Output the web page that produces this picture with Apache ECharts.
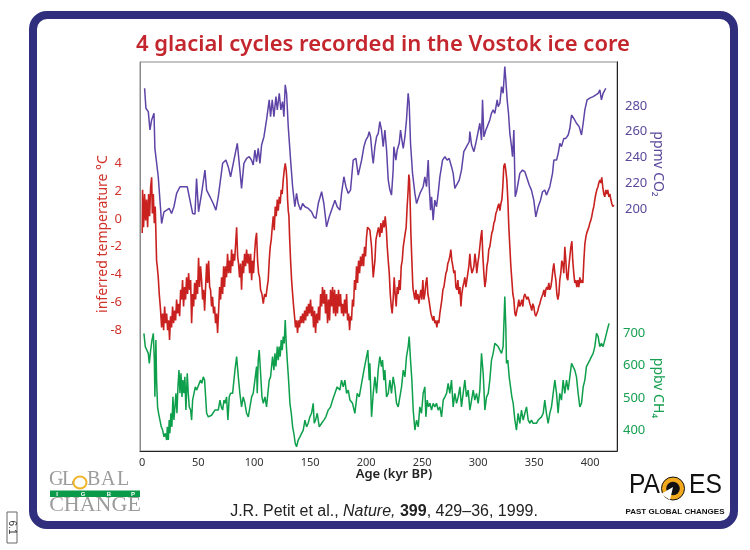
<!DOCTYPE html>
<html><head><meta charset="utf-8">
<script src="https://cdn.jsdelivr.net/npm/echarts@6/dist/echarts.min.js"></script>
<style>html,body{margin:0;padding:0;background:#fff}#c{width:750px;height:550px}</style>
</head><body><div id="c"></div>
<script>
const ageTicks = [0, 50, 100, 150, 200, 250, 300, 350, 400];
const tempTicks = [-8, -6, -4, -2, 0, 2, 4];
const co2Ticks = [200, 220, 240, 260, 280];
const ch4Ticks = [400, 500, 600, 700];

// Temperature (deg C) vs age (kyr BP)
const tempData = [
[0.0,-1.0],[0.3,2.1],[1.2,-0.6],[2.1,1.8],[3.0,-0.1],[3.9,1.4],[4.8,-0.6],[5.7,1.8],[6.6,0.2],[7.5,2.3],[8.4,3.0],[9.0,0.4],[9.9,1.8],[10.8,-0.3],[11.6,0.9],[12.2,-1.0],[12.8,-3.0],[13.4,-3.4],[14.3,-4.2],[15.2,-5.4],[16.4,-6.6],[17.3,-7.8],[18.2,-6.8],[19.1,-8.0],[20.0,-6.3],[20.9,-7.5],[21.8,-6.8],[22.7,-8.0],[23.6,-7.3],[24.4,-8.7],[25.3,-7.0],[26.2,-7.8],[27.1,-6.3],[28.0,-7.5],[28.9,-6.6],[29.8,-7.3],[30.7,-5.8],[31.6,-6.8],[32.5,-6.1],[33.4,-7.0],[34.3,-5.1],[35.2,-5.8],[36.0,-4.4],[36.9,-6.3],[37.8,-4.9],[38.7,-5.8],[39.6,-4.2],[40.5,-5.4],[41.4,-3.9],[42.3,-5.1],[43.2,-4.4],[44.1,-7.5],[45.0,-5.4],[45.9,-6.3],[46.8,-4.6],[47.7,-5.8],[48.5,-4.4],[49.4,-5.4],[50.3,-2.8],[51.2,-4.9],[52.1,-3.4],[53.0,-4.4],[53.9,-5.8],[54.8,-5.1],[55.7,-6.6],[56.6,-4.9],[57.5,-3.2],[58.4,-4.6],[59.3,-3.0],[60.2,-4.9],[61.0,-5.1],[61.9,-6.3],[62.8,-5.6],[63.7,-6.8],[64.6,-6.3],[65.5,-7.5],[66.4,-6.8],[67.3,-8.2],[68.2,-6.6],[69.1,-4.9],[70.0,-5.8],[70.9,-4.2],[71.8,-5.4],[72.7,-3.4],[73.5,-4.9],[74.4,-3.4],[75.3,-4.2],[76.2,-2.5],[77.1,-3.9],[78.0,-3.0],[78.9,-3.9],[79.8,-2.2],[80.7,-3.4],[81.6,-2.5],[82.5,-3.0],[83.4,-1.8],[84.3,-0.6],[85.2,-2.7],[86.0,-3.2],[86.9,-4.2],[87.8,-3.2],[88.7,-5.1],[89.6,-3.0],[90.5,-3.9],[91.4,-2.5],[92.3,-3.4],[93.2,-2.2],[94.1,-3.2],[95.0,-2.5],[95.9,-3.9],[96.8,-2.5],[97.7,-4.4],[98.5,-3.0],[99.4,-3.9],[100.3,-2.5],[101.2,-1.5],[102.1,-1.0],[103.0,-3.0],[103.9,-3.9],[104.8,-4.2],[105.7,-5.1],[106.9,-5.4],[108.1,-6.1],[109.3,-5.4],[110.5,-5.6],[111.6,-4.9],[112.5,-4.4],[113.4,-3.0],[114.3,-2.0],[115.2,-1.5],[116.1,-0.6],[117.0,0.2],[117.9,-0.8],[118.8,0.9],[119.7,0.2],[120.6,1.4],[121.5,0.6],[122.4,1.6],[123.2,1.1],[124.1,2.1],[125.0,1.8],[125.9,2.8],[126.8,3.5],[127.7,4.0],[128.6,3.5],[129.2,2.8],[129.8,1.4],[130.4,0.6],[131.0,0.2],[131.6,-1.3],[132.5,-3.0],[133.4,-4.4],[134.3,-5.4],[135.2,-6.3],[136.0,-7.0],[136.9,-7.8],[137.8,-7.3],[138.7,-8.2],[139.6,-7.3],[140.5,-7.8],[141.4,-7.0],[142.3,-7.5],[143.2,-6.8],[144.1,-7.5],[145.0,-6.6],[145.9,-7.3],[146.8,-6.3],[147.7,-7.0],[148.5,-6.1],[149.4,-6.8],[150.3,-5.8],[151.2,-7.0],[152.1,-6.3],[153.0,-7.8],[153.9,-6.6],[154.8,-8.2],[155.7,-6.8],[156.6,-7.5],[157.5,-6.3],[158.4,-7.3],[159.3,-5.4],[160.2,-6.3],[161.0,-4.9],[161.9,-6.1],[162.8,-5.1],[163.7,-6.8],[164.6,-5.4],[165.5,-7.5],[166.4,-5.8],[167.3,-7.3],[168.2,-5.1],[169.1,-6.3],[170.0,-4.9],[170.9,-6.8],[171.8,-5.1],[172.7,-7.0],[173.5,-5.4],[174.4,-6.8],[175.3,-5.1],[176.2,-6.3],[177.1,-5.4],[178.0,-6.8],[178.9,-6.1],[179.8,-7.0],[180.7,-5.8],[181.6,-6.8],[182.5,-5.4],[183.4,-7.3],[184.3,-6.8],[185.2,-8.0],[186.0,-7.0],[186.9,-7.3],[187.8,-5.8],[188.7,-6.3],[189.6,-4.4],[190.5,-5.1],[191.4,-3.4],[192.3,-4.6],[193.2,-3.0],[194.1,-3.9],[195.0,-2.7],[195.9,-3.4],[196.8,-2.5],[197.7,-3.4],[198.5,-2.0],[199.4,-2.7],[200.3,-1.3],[201.2,-0.6],[202.1,-0.6],
[203.3,-0.8],[204.8,-2.0],[206.3,-4.2],[207.8,-3.0],[208.7,-1.5],[209.9,-1.0],[211.0,-0.6],[212.2,-1.3],[213.1,-0.3],[214.0,-1.0],[215.2,-0.1],[216.1,-0.6],[217.0,0.2],[217.9,-0.6],[218.8,-2.0],[219.7,-3.0],[220.6,-3.9],[221.5,-5.4],[222.4,-6.3],[223.2,-6.8],[224.1,-5.8],[225.0,-4.2],[225.9,-5.4],[226.8,-6.3],[227.7,-4.9],[228.6,-5.4],[229.5,-4.4],[230.4,-5.1],[231.3,-3.4],[232.2,-3.0],[233.1,-2.0],[234.0,-1.5],[234.9,-1.0],[235.7,-0.6],[236.6,0.9],[237.5,2.1],[238.1,3.2],[238.7,2.8],[239.3,1.1],[239.9,-1.0],[240.8,-3.0],[241.7,-4.9],[242.6,-5.4],[243.5,-5.8],[244.4,-5.1],[245.3,-5.8],[246.2,-5.4],[247.1,-6.1],[247.9,-5.6],[248.8,-5.1],[249.7,-5.8],[250.6,-4.4],[251.5,-5.8],[252.4,-5.4],[253.3,-4.6],[254.2,-4.2],[255.1,-5.4],[256.0,-5.8],[256.9,-6.3],[257.8,-6.8],[258.7,-6.8],[259.6,-7.3],[260.4,-7.0],[261.3,-7.5],[262.2,-7.3],[263.1,-7.8],[264.0,-7.3],[264.9,-7.5],[265.8,-6.8],[266.7,-6.3],[267.6,-5.8],[268.5,-5.1],[269.4,-4.9],[270.3,-4.4],[271.2,-3.9],[272.1,-3.7],[272.9,-3.2],[273.8,-3.0],[274.7,-2.7],[275.6,-2.2],[276.5,-3.0],[277.4,-3.4],[278.3,-3.9],[279.2,-3.7],[280.1,-4.9],[281.0,-5.1],[281.9,-4.4],[282.8,-5.4],[283.7,-4.9],[284.6,-6.3],[285.4,-5.4],[286.3,-4.9],[287.2,-4.6],[288.1,-4.2],[289.0,-4.9],[289.9,-4.4],[290.8,-3.9],[291.7,-3.4],[292.6,-2.5],[293.5,-3.4],[294.4,-3.9],[295.3,-3.7],[296.2,-3.4],[297.1,-2.5],[297.9,-3.0],[298.8,-3.9],[299.7,-3.2],[300.6,-2.7],[301.5,-2.0],[302.4,-1.3],[303.3,-0.8],[304.2,-2.7],[305.1,-3.9],[306.0,-4.9],[306.9,-4.4],[307.8,-3.4],[308.7,-3.0],[309.5,-2.2],[310.4,-2.0],[311.3,-1.5],[312.2,-1.0],[313.1,-0.8],[314.0,-0.3],[314.9,-0.1],[315.8,0.4],[316.7,0.6],[317.6,0.9],[318.5,1.1],[319.4,0.6],[320.3,1.1],[321.2,1.4],[322.0,2.3],[322.9,3.8],[323.8,4.0],[324.7,3.5],[325.6,2.8],[326.5,1.4],[327.4,-0.6],[328.3,-2.0],[329.2,-3.4],[330.1,-4.4],[331.0,-5.4],[331.9,-5.8],[332.8,-6.8],[333.7,-7.0],[334.5,-6.6],[335.4,-6.3],[336.3,-5.8],[337.2,-6.3],[338.1,-6.1],[339.0,-5.8],[339.9,-6.3],[340.8,-5.6],[341.7,-5.4],[342.6,-5.6],[343.5,-5.8],[344.4,-5.6],[345.3,-5.8],[346.2,-6.1],[347.0,-6.3],[347.9,-6.6],[348.8,-6.1],[349.7,-6.3],[350.6,-6.8],[351.5,-7.0],[352.4,-6.8],[353.3,-6.6],[354.2,-6.3],[355.1,-6.1],[356.0,-5.8],[356.9,-5.6],[357.8,-5.4],[358.7,-5.1],[359.6,-5.6],[360.4,-5.1],[361.3,-4.9],[362.2,-5.1],[363.1,-4.6],[364.0,-5.1],[364.9,-4.9],[365.8,-4.4],[366.7,-3.7],[367.6,-3.2],[368.5,-3.9],[369.4,-4.4],[370.3,-5.4],[371.2,-5.8],[372.1,-5.4],[372.9,-4.4],[373.8,-3.9],[374.7,-3.0],[375.6,-3.2],[376.5,-3.9],[377.4,-2.0],[378.3,-3.0],[379.2,-4.2],[380.1,-4.4],[381.0,-3.4],[381.9,-2.7],[382.8,-2.0],[383.7,-1.6],[384.5,-3.0],[385.4,-3.9],[386.3,-4.6],[387.2,-4.4],[388.1,-4.9],[389.0,-4.4],[389.9,-4.9],[390.8,-4.2],[391.7,-4.6],[392.6,-4.4],[393.5,-4.6],[394.4,-3.0],[395.3,-1.8],[396.2,-1.3],[397.0,-1.0],[397.9,-0.8],[398.8,-0.6],[399.7,-0.3],[400.6,-0.1],[401.5,0.2],[402.4,0.6],[403.3,0.9],[404.2,1.4],[405.1,1.8],[406.0,2.1],[406.9,2.3],[407.8,2.6],[408.7,2.8],[409.6,2.6],[410.4,3.0],[411.3,2.3],[412.2,1.8],[413.1,1.6],[414.0,2.1],[414.9,1.8],[415.8,2.1],[416.7,1.6],[417.6,1.8],[418.5,1.4],[419.4,1.1],[420.3,0.9],[421.2,1.0]
];

// CO2 (ppmv) vs age (kyr BP)
const co2Data = [
[2.1,293.7],[3.3,278.2],[5.4,275.6],[6.9,261.4],[8.4,269.2],[10.5,274.3],[11.3,247.2],[12.8,245.9],[14.3,225.2],[15.8,207.1],[17.3,189.0],[19.4,198.1],[21.8,199.4],[24.1,200.7],[26.2,196.8],[28.3,202.0],[30.7,212.3],[33.7,217.5],[38.1,217.5],[40.2,217.5],[42.6,207.1],[45.0,196.8],[47.1,196.3],[48.5,223.9],[50.3,198.1],[53.0,212.3],[56.0,230.4],[57.5,214.9],[60.5,209.7],[63.4,204.5],[65.8,199.4],[67.9,209.7],[71.8,235.6],[74.7,238.1],[76.8,233.0],[78.9,225.2],[81.3,235.6],[84.9,251.1],[87.2,230.4],[88.7,216.2],[90.8,235.6],[93.2,239.4],[95.6,240.7],[97.6,238.1],[99.1,234.3],[100.6,245.9],[102.1,236.8],[103.6,247.2],[105.1,235.6],[106.6,249.8],[108.7,256.2],[111.0,269.2],[113.4,284.7],[114.6,271.7],[116.1,284.7],[117.6,271.7],[119.4,287.2],[120.6,276.9],[122.4,289.8],[123.8,276.9],[125.3,283.4],[126.5,271.7],[127.7,296.3],[128.9,289.8],[130.4,264.0],[132.5,238.1],[134.3,217.5],[136.3,202.0],[137.8,212.3],[139.3,204.5],[141.4,199.4],[143.2,204.5],[145.3,202.0],[148.3,200.7],[151.2,198.1],[153.3,194.2],[155.1,192.9],[157.2,204.5],[160.2,213.6],[162.2,204.5],[164.6,186.4],[167.0,194.2],[169.1,199.4],[172.1,207.1],[174.1,202.0],[176.5,199.4],[178.0,212.3],[180.1,225.2],[181.9,217.5],[184.0,212.3],[186.0,214.9],[188.4,238.1],[190.8,239.4],[192.9,226.5],[194.4,227.8],[195.9,238.1],[198.0,248.5],[199.7,253.6],[201.5,256.2],[202.7,260.1],[203.9,256.2],[205.4,242.0],[206.3,235.6],[207.8,248.5],[209.3,256.2],[210.8,258.8],[212.2,267.9],[213.7,261.4],[215.2,248.5],[216.7,261.4],[218.2,245.9],[219.7,222.6],[221.2,214.9],[222.6,211.0],[224.1,230.4],[224.7,248.5],[226.5,238.1],[227.7,245.9],[229.5,251.1],[230.7,261.4],[231.9,253.6],[233.1,247.2],[234.6,256.2],[236.0,269.2],[237.5,289.8],[238.4,282.1],[239.6,251.1],[241.4,227.8],[243.5,212.3],[245.0,204.5],[246.5,208.4],[248.0,212.3],[249.4,211.0],[250.9,217.5],[252.4,225.2],[253.9,217.5],[255.4,238.1],[256.3,217.5],[257.5,199.4],[258.4,209.7],[259.8,191.6],[261.3,207.1],[262.8,202.0],[264.3,212.3],[265.8,225.2],[268.2,238.1],[270.3,240.7],[272.3,238.1],[274.1,239.4],[276.2,233.0],[277.7,227.8],[279.2,216.2],[280.7,218.8],[283.1,222.6],[285.1,230.4],[287.2,244.6],[289.6,248.5],[292.0,252.3],[292.6,260.1],[294.1,249.8],[296.2,244.6],[297.9,251.1],[300.0,260.1],[301.5,266.6],[303.0,253.6],[303.9,284.7],[305.1,256.2],[306.9,261.4],[308.1,264.0],[309.3,264.0],[310.4,269.2],[311.9,274.3],[313.4,276.9],[314.9,274.3],[317.0,284.7],[317.9,279.5],[319.4,282.1],[320.9,295.0],[322.3,289.8],[323.8,310.5],[324.7,300.2],[325.9,284.7],[327.1,274.3],[328.3,258.8],[329.8,248.5],[330.7,240.7],[331.9,261.4],[333.1,209.7],[334.3,213.6],[335.7,212.3],[337.2,227.8],[339.6,230.4],[341.7,229.1],[343.2,225.2],[345.6,218.8],[347.6,214.9],[349.7,207.1],[351.5,194.2],[353.6,202.0],[355.7,207.1],[357.5,213.6],[359.5,214.9],[361.0,211.0],[362.5,212.3],[364.0,217.5],[366.4,227.8],[367.6,238.1],[370.0,238.1],[371.5,243.3],[373.0,251.1],[374.4,248.5],[376.5,254.9],[378.3,254.9],[380.4,257.5],[381.9,262.7],[383.4,273.0],[385.4,270.4],[387.8,266.6],[390.2,264.0],[392.3,257.5],[393.8,266.6],[395.3,276.9],[397.3,284.7],[399.7,286.0],[402.7,287.2],[405.1,288.5],[407.2,289.8],[408.7,292.4],[410.1,284.7],[411.6,289.8],[414.0,293.7]
];

// CH4 (ppbv) vs age (kyr BP)
const ch4Data = [
[1.5,700],[2.7,659],[3.9,659],[5.4,638],[6.3,607],[7.5,648],[8.7,679],[9.9,700],[10.8,617],[11.3,503],[12.2,679],[12.8,555],[13.7,472],[14.6,452],[15.8,431],[17.0,410],[18.2,400],[19.4,379],[20.6,390],[21.8,369],[22.4,410],[23.3,369],[24.1,431],[24.7,390],[25.6,452],[26.5,410],[27.4,503],[28.3,431],[29.2,472],[30.1,514],[31.0,452],[31.9,534],[32.8,586],[33.7,514],[34.6,576],[35.5,503],[36.3,555],[37.2,514],[38.1,565],[39.0,462],[40.2,576],[41.1,514],[42.0,472],[43.2,462],[44.1,431],[45.0,493],[46.2,514],[47.4,534],[48.5,524],[49.7,534],[50.9,534],[52.1,555],[53.3,545],[54.5,565],[55.7,555],[57.5,452],[59.0,441],[60.5,441],[61.9,446],[63.4,452],[64.9,462],[66.4,457],[67.9,462],[69.4,493],[70.6,472],[71.8,462],[73.0,493],[74.1,483],[75.3,503],[76.5,431],[77.7,503],[78.9,514],[80.7,514],[82.8,586],[84.3,628],[85.8,565],[87.2,514],[88.7,472],[90.2,503],[91.7,483],[93.2,452],[94.7,441],[96.2,441],[97.7,503],[99.1,514],[100.6,555],[102.1,597],[102.7,514],[103.6,617],[104.5,648],[105.7,576],[106.9,503],[108.1,483],[109.6,503],[111.0,472],[112.2,514],[113.4,555],[114.6,565],[115.5,597],[116.4,628],[117.6,586],[118.5,638],[119.4,597],[120.6,659],[121.5,617],[122.4,659],[123.2,628],[124.1,679],[125.0,648],[125.9,690],[126.8,669],[127.7,741],[128.6,669],[129.5,617],[130.7,555],[131.9,483],[133.1,452],[134.3,410],[135.4,390],[136.6,359],[137.8,348],[139.3,369],[140.8,379],[142.3,379],[143.8,400],[145.3,431],[146.8,410],[148.2,421],[149.7,441],[151.2,452],[152.7,483],[153.6,421],[154.8,431],[156.3,452],[158.1,410],[160.2,421],[162.2,431],[164.0,441],[166.1,462],[168.2,472],[170.0,493],[172.1,514],[174.1,534],[176.5,524],[178.0,555],[179.5,534],[181.0,555],[182.5,514],[184.0,524],[185.5,493],[187.8,483],[189.9,452],[192.0,514],[193.8,503],[195.9,545],[198.0,586],[199.7,617],[201.5,648],[202.7,555],
[203.3,607],[204.8,441],[206.3,514],[207.8,565],[209.3,514],[210.7,586],[212.2,628],[213.7,597],[214.6,617],[215.8,555],[216.7,586],[218.2,503],[219.7,514],[221.2,555],[222.6,514],[224.1,565],[225.6,534],[227.1,483],[228.6,472],[230.1,472],[231.6,534],[233.1,586],[234.6,565],[236.0,628],[237.5,659],[238.4,690],[239.6,617],[240.8,555],[242.0,462],[243.5,400],[245.0,431],[246.5,410],[247.9,472],[249.4,452],[250.9,514],[252.4,534],[253.3,441],[254.5,493],[255.7,472],[256.9,483],[258.4,462],[259.8,483],[261.3,472],[262.8,483],[264.3,462],[265.8,472],[267.3,441],[268.8,493],[270.3,503],[271.8,514],[273.2,545],[274.7,514],[276.2,555],[277.7,472],[279.2,514],[280.7,483],[282.2,503],[283.7,534],[285.1,472],[286.6,514],[288.1,555],[289.6,503],[291.1,524],[292.6,462],[294.1,493],[295.6,524],[297.0,493],[298.5,514],[300.0,483],[301.5,524],[303.0,638],[304.5,576],[306.0,462],[307.5,503],[309.0,514],[310.4,555],[311.9,617],[313.4,638],[314.9,669],[316.4,669],[317.9,659],[319.4,648],[320.9,638],[322.3,659],[323.2,752],[323.8,814],[324.7,721],[325.3,607],[326.5,617],[327.7,565],[328.9,534],[330.1,503],[331.3,483],[332.8,431],[334.2,400],[335.7,452],[337.2,421],[338.7,462],[340.2,431],[341.7,452],[343.2,472],[344.7,431],[346.2,421],[347.6,431],[349.1,421],[350.6,426],[352.1,421],[353.6,431],[355.1,426],[356.6,441],[358.1,452],[359.5,493],[361.0,452],[362.5,421],[364.0,452],[365.5,472],[367.0,514],[368.5,555],[370.0,514],[371.4,452],[372.9,514],[374.4,493],[375.9,555],[377.4,514],[378.9,555],[380.4,524],[381.9,565],[383.4,607],[384.8,597],[386.3,586],[387.8,565],[389.3,514],[390.8,472],[392.3,483],[393.8,534],[395.3,555],[396.7,597],[398.2,597],[399.7,617],[401.2,628],[402.7,638],[404.2,659],[405.7,700],[407.2,690],[408.6,659],[410.1,669],[411.6,659],[413.1,679],[414.6,700],[416.1,721],[417.0,731]
];

const RED = '#c8211f', RED_T = '#d0342c', PURPLE = '#5e44a6', PURPLE_T = '#5b489c', GREEN = '#0d9f4b', GREEN_T = '#17a052';
const NAVY = '#2f2f7d';
const F = '"Noto Sans", "Open Sans", "DejaVu Sans", sans-serif';
const SERIF = '20px "Liberation Serif", serif';
const LOGO_GREY = '#9c9c9c';

const chart = echarts.init(document.getElementById('c'), null, {renderer: 'canvas'});
const yCommon = {type: 'value', axisTick: {show: false}, splitLine: {show: false}};
chart.setOption({
  animation: false,
  backgroundColor: '#ffffff',
  grid: {left: 140, right: 133, top: 62, bottom: 99, show: true, borderColor: '#8a8a8a', borderWidth: 1},
  xAxis: {
    type: 'value', min: -2, max: 424,
    axisLine: {show: true, onZero: false, lineStyle: {color: '#222', width: 1}},
    axisTick: {show: false}, splitLine: {show: false},
    axisLabel: {customValues: ageTicks, color: '#333', fontSize: 11, margin: 6, fontFamily: F}
  },
  yAxis: [
    Object.assign({}, yCommon, {position: 'left', min: -16.7, max: 11.3,
      axisLine: {show: true, onZero: false, lineStyle: {color: '#8a8a8a'}},
      axisLabel: {customValues: tempTicks, color: RED_T, fontSize: 13, margin: 18, fontFamily: F}}),
    Object.assign({}, yCommon, {position: 'right', min: 13, max: 314,
      axisLine: {show: true, onZero: false, lineStyle: {color: '#222'}},
      axisLabel: {customValues: co2Ticks, color: PURPLE_T, fontSize: 13, margin: 8, fontFamily: F}}),
    Object.assign({}, yCommon, {position: 'right', offset: 0, min: 335, max: 1542,
      axisLine: {show: true, onZero: false, lineStyle: {color: '#222'}},
      axisLabel: {customValues: ch4Ticks, color: GREEN_T, fontSize: 13, margin: 6, fontFamily: F}})
  ],
  series: [
    {type: 'line', name: 'CO2', data: co2Data, yAxisIndex: 1, showSymbol: false, silent: true,
      lineStyle: {color: PURPLE, width: 1.5}},
    {type: 'line', name: 'CH4', data: ch4Data, yAxisIndex: 2, showSymbol: false, silent: true,
      lineStyle: {color: GREEN, width: 1.5}},
    {type: 'line', name: 'Temperature', data: tempData, yAxisIndex: 0, showSymbol: false, silent: true,
      lineStyle: {color: RED, width: 1.6}}
  ],
  graphic: [
    {type: 'rect', shape: {x: 33, y: 15, width: 701, height: 510, r: 14}, style: {fill: 'none', stroke: NAVY, lineWidth: 8}},
    {type: 'text', x: 383, y: 45, style: {text: '4 glacial cycles recorded in the Vostok ice core', align: 'center', verticalAlign: 'middle', fill: '#c4262e', font: '600 22px ' + F}},
    {type: 'text', x: 103, y: 234, rotation: Math.PI / 2, style: {text: 'inferred temperature °C', align: 'center', verticalAlign: 'middle', fill: RED_T, font: '14px ' + F}},
    {type: 'text', x: 658, y: 164, rotation: -Math.PI / 2, style: {text: 'ppmv CO₂', align: 'center', verticalAlign: 'middle', fill: PURPLE_T, font: '14px ' + F}},
    {type: 'text', x: 658, y: 388, rotation: -Math.PI / 2, style: {text: 'ppbv CH₄', align: 'center', verticalAlign: 'middle', fill: GREEN_T, font: '14px ' + F}},
    {type: 'text', x: 394, y: 474, style: {text: 'Age (kyr BP)', align: 'center', verticalAlign: 'middle', fill: '#222', font: '600 13px ' + F}},
    {type: 'text', x: 384, y: 512, style: {
      text: '{a|J.R. Petit et al., }{i|Nature,}{a| }{b|399}{a|, 429–36, 1999.}', align: 'center', verticalAlign: 'middle',
      rich: {
        a: {font: '16px "Liberation Sans", Arial, sans-serif', fill: '#222'},
        i: {font: 'italic 16px "Liberation Sans", Arial, sans-serif', fill: '#222'},
        b: {font: 'bold 16px "Liberation Sans", Arial, sans-serif', fill: '#222'}
      }}},
    // GLOBAL CHANGE / IGBP logo
    {type: 'text', x: 49, y: 490, style: {text: 'G', align: 'left', verticalAlign: 'bottom', fill: LOGO_GREY, font: SERIF}},
    {type: 'text', x: 62, y: 490, style: {text: 'L', align: 'left', verticalAlign: 'bottom', fill: LOGO_GREY, font: SERIF}},
    {type: 'ellipse', shape: {cx: 80, cy: 482.5, rx: 6.5, ry: 6}, style: {fill: 'none', stroke: '#f0b429', lineWidth: 2}},
    {type: 'text', x: 87, y: 490, style: {text: 'B', align: 'left', verticalAlign: 'bottom', fill: LOGO_GREY, font: SERIF}},
    {type: 'text', x: 101, y: 490, style: {text: 'A', align: 'left', verticalAlign: 'bottom', fill: LOGO_GREY, font: SERIF}},
    {type: 'text', x: 117, y: 490, style: {text: 'L', align: 'left', verticalAlign: 'bottom', fill: LOGO_GREY, font: SERIF}},
    {type: 'rect', shape: {x: 50, y: 490.5, width: 90, height: 6.5}, style: {fill: '#0a9a49'}},
    {type: 'text', x: 57, y: 494, style: {text: 'I', align: 'center', verticalAlign: 'middle', fill: '#fff', font: 'bold 6px "Liberation Sans", sans-serif'}},
    {type: 'text', x: 83, y: 494, style: {text: 'G', align: 'center', verticalAlign: 'middle', fill: '#fff', font: 'bold 6px "Liberation Sans", sans-serif'}},
    {type: 'text', x: 109, y: 494, style: {text: 'B', align: 'center', verticalAlign: 'middle', fill: '#fff', font: 'bold 6px "Liberation Sans", sans-serif'}},
    {type: 'text', x: 133, y: 494, style: {text: 'P', align: 'center', verticalAlign: 'middle', fill: '#fff', font: 'bold 6px "Liberation Sans", sans-serif'}},
    {type: 'text', x: 95, y: 516, style: {text: 'CHANGE', align: 'center', verticalAlign: 'bottom', fill: LOGO_GREY, font: '22px "Liberation Serif", serif'}},
    // PAGES logo
    {type: 'text', x: 629, y: 499, scaleX: 0.88, style: {text: 'PA', align: 'left', verticalAlign: 'bottom', fill: '#111', font: '28px "Liberation Sans", Arial, sans-serif'}},
    {type: 'circle', shape: {cx: 673, cy: 488.5, r: 11.5}, style: {fill: '#f2a81d', stroke: '#111', lineWidth: 1}},
    {type: 'circle', shape: {cx: 673, cy: 488.5, r: 6.8}, style: {fill: '#111'}},
    {type: 'polygon', shape: {points: [[661, 494], [673, 487], [670, 500]]}, style: {fill: '#fff'}},
    {type: 'text', x: 689, y: 499, scaleX: 0.88, style: {text: 'ES', align: 'left', verticalAlign: 'bottom', fill: '#111', font: '28px "Liberation Sans", Arial, sans-serif'}},
    {type: 'text', x: 675, y: 512, style: {text: 'PAST GLOBAL CHANGES', align: 'center', verticalAlign: 'middle', fill: '#111', font: 'bold 8px "Liberation Sans", Arial, sans-serif'}},
    // page number box
    {type: 'rect', shape: {x: 7, y: 512, width: 10, height: 31}, style: {fill: '#fff', stroke: '#666', lineWidth: 1}},
    {type: 'text', x: 12, y: 527.5, rotation: -Math.PI / 2, style: {text: '6.1', align: 'center', verticalAlign: 'middle', fill: '#333', font: '10px "Liberation Sans", sans-serif'}}
  ]
});
</script></body></html>
